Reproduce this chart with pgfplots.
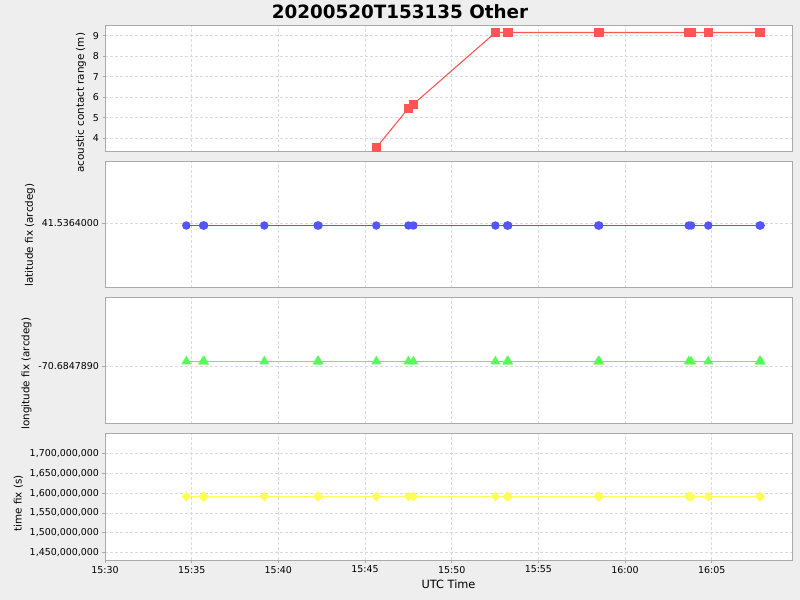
\documentclass[border=0pt]{standalone}
\usepackage{fontspec}
\setmainfont{DejaVu Sans}
\usepackage{pgfplots}
\pgfplotsset{compat=1.18}
\usepackage{pgfplotstable}

\definecolor{bg}{HTML}{EEEEEE}
\definecolor{bordergray}{HTML}{AAAAAA}
\definecolor{gridgray}{HTML}{DADADA}
\definecolor{cred}{HTML}{FF5555}
\definecolor{cblue}{HTML}{5555FF}
\definecolor{cgreen}{HTML}{55FF55}
\definecolor{cyellow}{HTML}{FFFF55}

% t: minutes after 15:30 UTC; range: acoustic contact range (m);
% dlat: latitude fix offset from 41.5364000 (axis units); dlon: longitude fix offset from -70.6847890 (axis units);
% tfix: time fix (s)
\pgfplotstableread{
t      range  dlat    dlon   tfix
4.69   nan    -0.040  0.071  1591200000
5.66   nan    -0.040  0.071  1591200000
5.72   nan    -0.040  0.071  1591200000
9.19   nan    -0.040  0.071  1591200000
12.26  nan    -0.040  0.071  1591200000
12.32  nan    -0.040  0.071  1591200000
15.65  3.54   -0.040  0.071  1591200000
17.50  5.46   -0.040  0.071  1591200000
17.79  5.66   -0.040  0.071  1591200000
22.52  9.153  -0.040  0.071  1591200000
23.20  9.153  -0.040  0.071  1591200000
23.26  9.153  -0.040  0.071  1591200000
28.45  9.153  -0.040  0.071  1591200000
28.51  9.153  -0.040  0.071  1591200000
33.67  9.153  -0.040  0.071  1591200000
33.81  9.153  -0.040  0.071  1591200000
34.80  9.153  -0.040  0.071  1591200000
37.76  9.153  -0.040  0.071  1591200000
37.82  9.153  -0.040  0.071  1591200000
}\fixdata

\pgfplotsset{
  panel/.style={
    scale only axis, width=687bp, height=126bp, anchor=south west,
    xmin=0, xmax=39.63,
    axis background/.style={fill=white},
    axis line style={draw=bordergray, line width=1bp},
    grid=major,
    major grid style={draw=gridgray, dash pattern=on 3bp off 2bp, line width=0.8bp},
    xtick={0,5,...,35},
    tick align=outside, major tick length=2.5bp,
    tick style={draw=bordergray, line width=0.8bp},
    xtick pos=bottom, ytick pos=left,
    ticklabel style={font=\fontsize{9.5}{11}\selectfont, text=black},
    ylabel style={font=\fontsize{10.4}{12}\selectfont, text=black},
    xlabel style={font=\fontsize{11.4}{13}\selectfont, text=black},
    /pgf/number format/assume math mode=true,
  },
  upper/.style={xticklabels={}, xtick style={draw=none}},
}

\begin{document}
\begin{tikzpicture}
\fill[bg] (0,0) rectangle (800bp,600bp);
\node[font=\fontsize{18.4}{21}\selectfont\bfseries] at (400bp,588bp) {20200520T153135 Other};

% panel 1
\begin{axis}[panel, upper, at={(105bp,448bp)},
  ymin=3.33, ymax=9.47, ytick={4,5,6,7,8,9},
  ylabel={acoustic contact range (m)},
  ylabel style={at={(ticklabel cs:0.39)}}]
\addplot[color=cred, line width=1.1bp, mark=square*, mark size=4bp,
  mark options={draw=none, fill=cred}] table[x=t, y=range] {\fixdata};
\end{axis}

% panel 2
\begin{axis}[panel, upper, at={(105bp,312bp)},
  ymin=-1.032, ymax=0.968, ytick={0}, yticklabels={41.5364000},
  ylabel={latitude fix (arcdeg)},
  ylabel style={at={(ticklabel cs:0.42)}}]
\addplot[color=cblue, line width=1.2bp, mark=*, mark size=3.6bp,
  mark options={draw=none, fill=cblue}] table[x=t, y=dlat] {\fixdata};
\end{axis}

% panel 3
\begin{axis}[panel, upper, at={(105bp,176bp)},
  ymin=-0.921, ymax=1.079, ytick={0}, yticklabels={-70.6847890},
  ylabel={longitude fix (arcdeg)},
  ylabel style={at={(ticklabel cs:0.40)}}]
\addplot[color=cgreen, line width=1.2bp, mark=triangle*, mark size=4.6bp,
  mark options={draw=none, fill=cgreen}] table[x=t, y=dlon] {\fixdata};
\end{axis}

% panel 4
\begin{axis}[panel, at={(105bp,40bp)},
  ymin=1431600000, ymax=1748500000,
  ytick={1450000000,1500000000,1550000000,1600000000,1650000000,1700000000},
  scaled y ticks=false,
  yticklabel style={/pgf/number format/fixed, /pgf/number format/precision=0,
    /pgf/number format/1000 sep={,}},
  xticklabels={15:30,15:35,15:40,15:45,15:50,15:55,16:00,16:05},
  ylabel={time fix (s)}, xlabel={UTC Time},
  ylabel style={at={(ticklabel cs:0.45)}}]
\addplot[color=cyellow, line width=1.2bp, mark=diamond*, mark size=4bp,
  mark options={draw=none, fill=cyellow, xscale=1.3}] table[x=t, y=tfix] {\fixdata};
\end{axis}

\pgfresetboundingbox
\path[use as bounding box] (0,0) rectangle (800bp,600bp);
\end{tikzpicture}
\end{document}
